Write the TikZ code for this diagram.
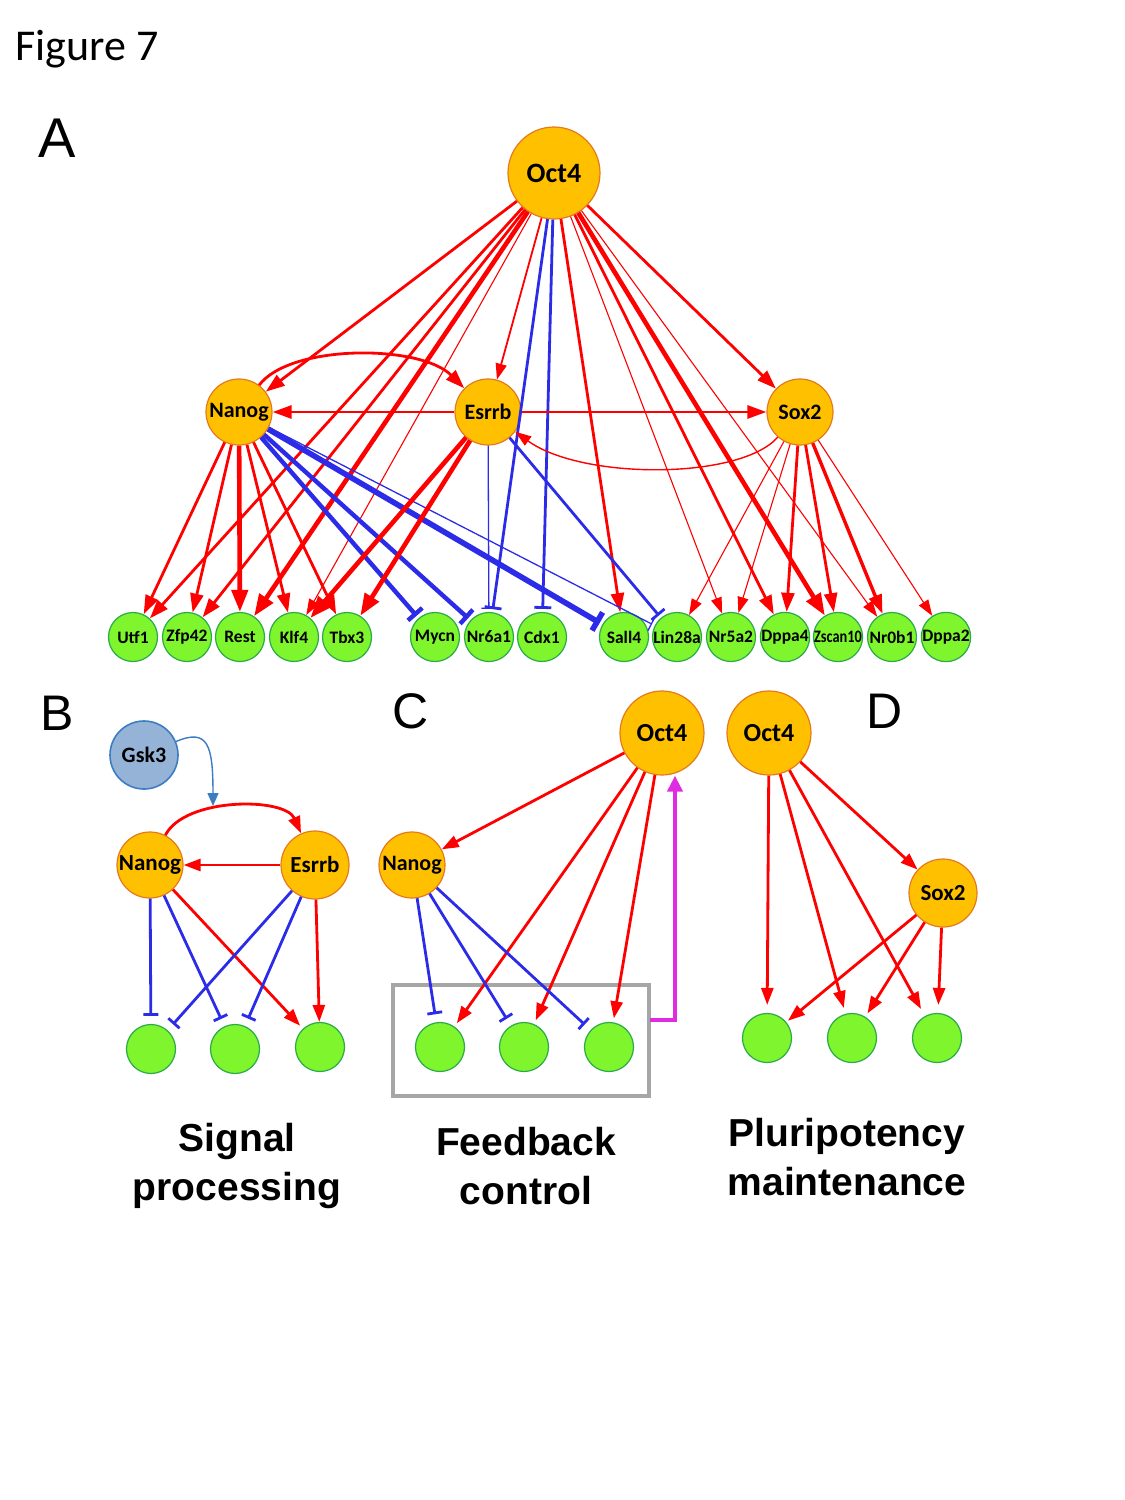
\documentclass[tikz,border=0pt]{standalone}
\usepackage{fontspec}
\setmainfont{Carlito}
\newfontfamily\arialfont{Liberation Sans}
\usepackage{graphicx}
\usetikzlibrary{arrows.meta}
\definecolor{actred}{HTML}{FF0000}
\definecolor{inhblue}{HTML}{2B2BE8}
\definecolor{tfgold}{HTML}{FFC000}
\definecolor{tfedge}{HTML}{E47A1C}
\definecolor{tgtgreen}{HTML}{7EF52D}
\definecolor{tgtedge}{HTML}{2BAA4A}
\definecolor{gskfill}{HTML}{95B3D7}
\definecolor{gskedge}{HTML}{3C7CC0}
\definecolor{fbmagenta}{HTML}{E02CE0}
\definecolor{boxgray}{HTML}{A6A6A6}
\tikzset{
  tf/.style={circle,draw=tfedge,line width=0.6pt,fill=tfgold,inner sep=0pt},
  tgt/.style={circle,draw=tgtedge,line width=0.6pt,fill=tgtgreen,inner sep=0pt,minimum size=24.5pt,font=\fontsize{8.75}{9}\selectfont\bfseries},
  actthin/.style={draw=actred,line width=0.55pt,-{Triangle[length=8pt,width=5.5pt]}},
  actmid/.style={draw=actred,line width=1.4pt,-{Triangle[length=9.5pt,width=6.5pt]}},
  actthick/.style={draw=actred,line width=2.3pt,-{Triangle[length=11pt,width=8pt]}},
  inhthin/.style={draw=inhblue,line width=0.65pt,-{Bar[width=7.5pt]},shorten >=1.5pt},
  inhmid/.style={draw=inhblue,line width=1.4pt,-{Bar[width=8.5pt]},shorten >=1.5pt},
  inhthick/.style={draw=inhblue,line width=2.2pt,-{Bar[width=9.5pt]},shorten >=1.5pt},
  inhvthick/.style={draw=inhblue,line width=2.8pt,-{Bar[width=10.5pt]},shorten >=1.5pt},
  panelact/.style={draw=actred,line width=1.4pt,-{Triangle[length=8.5pt,width=6pt]},shorten >=2pt},
  panelinh/.style={draw=inhblue,line width=1.4pt,-{Bar[width=7.5pt]},shorten >=4pt},
  gskact/.style={draw=gskedge,line width=0.7pt,-{Triangle[length=6.5pt,width=5.5pt]}},
  fbline/.style={draw=fbmagenta,line width=2.2pt,-{Triangle[length=8pt,width=7.5pt]}},
  panellabel/.style={inner sep=0pt,anchor=base west,font=\arialfont\fontsize{25}{30}\selectfont},
  caption/.style={align=center,inner sep=0pt,font=\arialfont\bfseries\fontsize{19.5}{24.5}\selectfont}
}
\begin{document}
\begin{tikzpicture}[x=0.5pt,y=-0.5pt]
\useasboundingbox (0,0) rectangle (1125,1500);
\node[inner sep=0pt,anchor=base west,font=\fontsize{22}{26}\selectfont] (figtitle) at (15,60) {Figure 7};
\node[panellabel,font=\arialfont\fontsize{28}{32}\selectfont] (labelA) at (38,157) {A};
\node[tf,minimum size=46pt,font=\fontsize{14}{16}\selectfont\bfseries] (oct4A) at (554,173) {Oct4};
\node[tf,minimum size=33pt,font=\fontsize{11}{13}\selectfont\bfseries] (nanogA) at (239,412) {Nanog};
\node[tf,minimum size=33pt,font=\fontsize{11}{13}\selectfont\bfseries] (esrrbA) at (488,412) {Esrrb};
\node[tf,minimum size=33pt,font=\fontsize{11}{13}\selectfont\bfseries] (sox2A) at (800,412) {Sox2};
\node[tgt] (utf1) at (133,637) {Utf1};
\node[tgt] (zfp42) at (187,637) {Zfp42};
\node[tgt] (rest) at (240,637) {Rest};
\node[tgt] (klf4) at (294,637) {Klf4};
\node[tgt] (tbx3) at (347,637) {Tbx3};
\node[tgt] (mycn) at (435,637) {Mycn};
\node[tgt] (nr6a1) at (489,637) {Nr6a1};
\node[tgt] (cdx1) at (542,637) {Cdx1};
\node[tgt] (sall4) at (624,637) {Sall4};
\node[tgt] (lin28a) at (677,637) {Lin28a};
\node[tgt] (nr5a2) at (731,637) {Nr5a2};
\node[tgt] (dppa4) at (785,637) {Dppa4};
\node[tgt] (zscan10) at (838,637) {\scalebox{0.82}[1]{Zscan10}};
\node[tgt] (nr0b1) at (892,637) {Nr0b1};
\node[tgt] (dppa2) at (946,637) {Dppa2};
\draw[actmid] (oct4A) -- (nanogA);
\draw[actthin,line width=0.9pt] (oct4A) -- (esrrbA);
\draw[actmid] (oct4A) -- (sox2A);
\draw[actmid] (oct4A) -- (utf1);
\draw[actmid] (oct4A) -- (zfp42);
\draw[actthick] (oct4A) -- (rest);
\draw[actthin] (oct4A) -- (klf4);
\draw[inhmid] (oct4A) -- (nr6a1);
\draw[inhmid] (oct4A) -- (cdx1);
\draw[actmid] (oct4A) -- (sall4);
\draw[actthin] (oct4A) -- (nr5a2);
\draw[actmid] (oct4A) -- (dppa4);
\draw[actthick] (oct4A) -- (zscan10);
\draw[actthin] (oct4A) -- (nr0b1);
\draw[actmid] (nanogA) .. controls (290,344) and (420,344) .. (esrrbA);
\draw[actmid] (esrrbA) -- (nanogA);
\draw[actmid] (esrrbA) -- (sox2A);
\draw[actthin,line width=0.7pt] (sox2A) .. controls (740,480) and (582,480) .. (esrrbA);
\draw[actmid] (nanogA) -- (utf1);
\draw[actmid] (nanogA) -- (zfp42);
\draw[actthick] (nanogA) -- (rest);
\draw[actmid] (nanogA) -- (klf4);
\draw[actmid] (nanogA) -- (tbx3);
\draw[inhthick] (nanogA) -- (mycn);
\draw[inhthick] (nanogA) -- (nr6a1);
\draw[inhvthick] (nanogA) -- (sall4);
\draw[inhthin] (nanogA) -- (lin28a);
\draw[actthick] (esrrbA) -- (klf4);
\draw[actthick] (esrrbA) -- (tbx3);
\draw[inhthin] (esrrbA) -- (nr6a1);
\draw[inhmid] (esrrbA) -- (lin28a);
\draw[actthin] (sox2A) -- (lin28a);
\draw[actthin] (sox2A) -- (nr5a2);
\draw[actmid] (sox2A) -- (dppa4);
\draw[actmid] (sox2A) -- (zscan10);
\draw[actmid,line width=1.7pt] (sox2A) -- (nr0b1);
\draw[actthin] (sox2A) -- (dppa2);
\node[panellabel] (labelB) at (40,730) {B};
\node[circle,draw=gskedge,line width=0.8pt,fill=gskfill,inner sep=0pt,minimum size=34pt,font=\fontsize{11}{13}\selectfont\bfseries] (gsk) at (144,755) {Gsk3};
\node[tf,minimum size=33pt,font=\fontsize{11.5}{13}\selectfont\bfseries] (nanogB) at (150,865) {Nanog};
\node[tf,minimum size=34pt,font=\fontsize{11.5}{13}\selectfont\bfseries] (esrrbB) at (315,865) {Esrrb};
\node[tgt] (b1) at (151,1049) {};
\node[tgt] (b2) at (235,1049) {};
\node[tgt] (b3) at (320,1047) {};
\coordinate (gskTip) at (213,806);
\draw[gskact] (gsk) .. controls (208,728) and (213,745) .. (gskTip);
\draw[panelact,shorten >=0pt] (nanogB) .. controls (185,797) and (285,797) .. (esrrbB);
\draw[panelact,shorten >=0pt] (esrrbB) -- (nanogB);
\draw[panelinh] (nanogB) -- (b1);
\draw[panelinh] (nanogB) -- (b2);
\draw[panelact] (nanogB) -- (b3);
\draw[panelinh] (esrrbB) -- (b1);
\draw[panelinh] (esrrbB) -- (b2);
\draw[panelact,shorten >=0pt] (esrrbB) -- (b3);
\node[caption] (capB) at (237,1166) {Signal\\processing};
\node[panellabel] (labelC) at (392,728) {C};
\node[tf,minimum size=42pt,font=\fontsize{13}{15}\selectfont\bfseries] (oct4C) at (662,733) {Oct4};
\node[tf,minimum size=33pt,font=\fontsize{11}{13}\selectfont\bfseries] (nanogC) at (412,865) {Nanog};
\node[draw=boxgray,line width=1.6pt,minimum width=128pt,minimum height=55.5pt,inner sep=0pt] (fbbox) at (521,1040.5) {};
\node[tgt] (c1) at (440,1047) {};
\node[tgt] (c2) at (524,1047) {};
\node[tgt] (c3) at (609,1047) {};
\draw[panelact,shorten >=0pt] (oct4C) -- (nanogC);
\draw[panelact] (oct4C) -- (c1);
\draw[panelact] (oct4C) -- (c2);
\draw[panelact] (oct4C) -- (c3);
\draw[panelinh] (nanogC) -- (c1);
\draw[panelinh] (nanogC) -- (c2);
\draw[panelinh] (nanogC) -- (c3);
\coordinate (fbStart) at (650,1020);
\coordinate (fbTurn) at (675,1020);
\draw[fbline] (fbStart) -- (fbTurn) -- (fbTurn |- oct4C.south);
\node[caption] (capC) at (526,1166) {Feedback\\control};
\node[panellabel] (labelD) at (866,728) {D};
\node[tf,minimum size=42pt,font=\fontsize{13}{15}\selectfont\bfseries] (oct4D) at (769,733) {Oct4};
\node[tf,minimum size=34pt,font=\fontsize{11.5}{13}\selectfont\bfseries] (sox2D) at (943,893) {Sox2};
\node[tgt] (d1) at (767,1038) {};
\node[tgt] (d2) at (852,1038) {};
\node[tgt] (d3) at (937,1038) {};
\draw[panelact,shorten >=0pt] (oct4D) -- (sox2D);
\draw[panelact,shorten >=4pt] (oct4D) -- (d1);
\draw[panelact,shorten >=3pt] (oct4D) -- (d2);
\draw[panelact,shorten >=4pt] (oct4D) -- (d3);
\draw[panelact,shorten >=1pt] (sox2D) -- (d1);
\draw[panelact] (sox2D) -- (d2);
\draw[panelact,shorten >=4pt] (sox2D) -- (d3);
\node[caption] (capD) at (847,1157) {Pluripotency\\maintenance};
\end{tikzpicture}
\end{document}
